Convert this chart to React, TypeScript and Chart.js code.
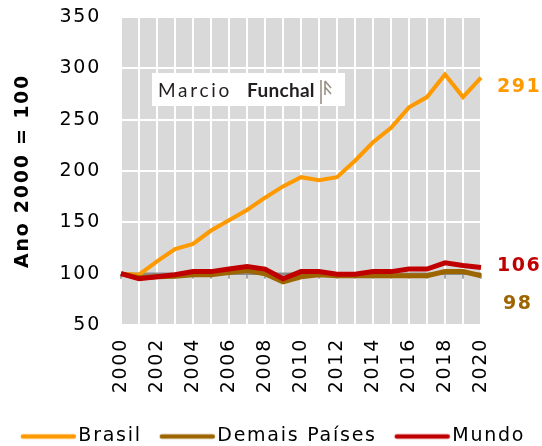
import React, { useEffect, useRef } from "react";
import { Chart, registerables } from "chart.js";

Chart.register(...registerables);

const years = ["2000","2001","2002","2003","2004","2005","2006","2007","2008","2009","2010","2011","2012","2013","2014","2015","2016","2017","2018","2019","2020"];
const brasil = [100, 99, 112, 124, 129, 142, 152, 162, 174, 185, 194, 191, 194, 210, 228, 242, 262, 272, 294, 272, 291];
const demais = [100, 96, 97, 97.5, 99, 99, 101, 103, 100, 92, 97, 99, 98, 98, 98, 98, 98, 98, 102, 102, 98];
const mundo = [100, 95, 97, 99, 102, 102, 104.5, 107, 104.5, 95, 102, 102, 99.5, 99.5, 102, 102, 104.5, 104.5, 110.5, 108, 106];

const seriesNames = ["Brasil", "Demais Países", "Mundo"];
const seriesColors = ["#FF9900", "#9C6500", "#C00000"];
const endLabels = ["291", "98", "106"];
const endLabelAt = [282, 70, 107];

const FONT = "'DejaVu Sans', sans-serif";
const SPACING = "1.75px";

const spacingPlugin = {
  id: "spacing",
  beforeUpdate(chart: any) { chart.ctx.letterSpacing = SPACING; },
  beforeLayout(chart: any) { chart.ctx.letterSpacing = SPACING; },
  beforeDraw(chart: any) { chart.ctx.letterSpacing = SPACING; },
};

function legendImage(color: string) {
  const c = document.createElement("canvas");
  c.width = 72;
  c.height = 26;
  const g = c.getContext("2d")!;
  g.strokeStyle = color;
  g.lineWidth = 4.5;
  g.lineCap = "round";
  g.beginPath();
  g.moveTo(16, 13);
  g.lineTo(67, 13);
  g.stroke();
  return c;
}

const bgPlugin = {
  id: "bg",
  beforeDraw(chart: any) {
    const { ctx, chartArea: a } = chart;
    ctx.save();
    ctx.fillStyle = "#D9D9D9";
    ctx.fillRect(a.left, a.top, a.right - a.left, a.bottom - a.top);
    ctx.restore();
  },
  beforeDatasetsDraw(chart: any) {
    const { ctx, chartArea: a } = chart;
    const ys = chart.scales.y;
    const xs = chart.scales.x;
    const y = ys.getPixelForValue(100);
    ctx.save();
    ctx.strokeStyle = "#8C8C8C";
    ctx.lineWidth = 2.5;
    ctx.beginPath();
    ctx.moveTo(a.left, y);
    ctx.lineTo(a.right, y);
    ctx.stroke();
    ctx.lineWidth = 1.5;
    for (let i = 0; i < years.length; i++) {
      const x = xs.getPixelForValue(i);
      ctx.beginPath();
      ctx.moveTo(x, y);
      ctx.lineTo(x, y + 5);
      ctx.stroke();
    }
    ctx.restore();
  },
  afterDraw(chart: any) {
    const { ctx, chartArea: a } = chart;
    const ys = chart.scales.y;
    ctx.save();
    ctx.letterSpacing = "1.5px";
    ctx.font = `bold 19px ${FONT}`;
    ctx.textBaseline = "middle";
    ctx.textAlign = "left";
    for (let i = 0; i < endLabels.length; i++) {
      ctx.fillStyle = seriesColors[i];
      ctx.fillText(endLabels[i], a.right + 16 + (endLabels[i].length < 3 ? 6 : 0), ys.getPixelForValue(endLabelAt[i]));
    }
    // logo
    const lx = a.left + 31, ly = a.top + 56, lw = 193, lh = 33;
    ctx.fillStyle = "#FFFFFF";
    ctx.fillRect(lx, ly, lw, lh);
    ctx.fillStyle = "#231F20";
    ctx.letterSpacing = "2.7px";
    ctx.font = `400 19px Lato, sans-serif`;
    ctx.fillText("Marcio", lx + 6, ly + lh / 2 + 1);
    ctx.letterSpacing = "0.3px";
    ctx.font = `bold 19px Lato, sans-serif`;
    ctx.fillText("Funchal", lx + 95, ly + lh / 2 + 1);
    ctx.strokeStyle = "#9A8F85";
    ctx.lineWidth = 1.6;
    const ix = lx + 169, iy = ly + 7;
    ctx.beginPath();
    ctx.moveTo(ix, iy); ctx.lineTo(ix, iy + 24);
    ctx.moveTo(ix + 4, iy + 1); ctx.lineTo(ix + 4, iy + 15);
    ctx.moveTo(ix + 4, iy + 1); ctx.lineTo(ix + 10, iy + 8);
    ctx.moveTo(ix + 4, iy + 7); ctx.lineTo(ix + 10, iy + 14);
    ctx.stroke();
    ctx.restore();
  },
};

export default function App() {
  const ref = useRef<HTMLCanvasElement>(null);
  useEffect(() => {
    const images = seriesColors.map(legendImage);
    const datasets = [brasil, demais, mundo].map((d, i) => ({
      label: seriesNames[i],
      data: d,
      borderColor: seriesColors[i],
      backgroundColor: seriesColors[i],
      borderWidth: i === 0 ? 4 : 5,
      pointRadius: 0,
      tension: 0,
      order: 2 - i,
      yAxisID: "y",
    }));
    const chart = new Chart(ref.current!, {
      type: "line",
      data: { labels: years, datasets },
      options: {
        animation: false,
        responsive: false,
        devicePixelRatio: 1,
        layout: { padding: { left: 0, right: 0, top: 0, bottom: -10 } },
        plugins: {
          legend: {
            position: "bottom",
            labels: {
              usePointStyle: true,
              pointStyleWidth: 52,
              boxHeight: 19,
              padding: 14,
              color: "#000000",
              font: { family: FONT, size: 19 },
              generateLabels: (ch: any) => {
                const items = Chart.defaults.plugins.legend.labels.generateLabels(ch);
                items.sort((p: any, q: any) => p.datasetIndex - q.datasetIndex);
                return items.map((it: any) => ({ ...it, pointStyle: images[it.datasetIndex], lineWidth: 0 }));
              },
            },
          },
          tooltip: { enabled: false },
        },
        scales: {
          x: {
            grid: { color: "#FFFFFF", lineWidth: 2, drawTicks: false },
            border: { display: false },
            ticks: {
              autoSkip: false,
              maxRotation: 90,
              minRotation: 90,
              padding: 13,
              color: "#000000",
              font: { family: FONT, size: 19 },
              callback: (v: any, i: number) => (i % 2 === 0 ? years[i] : ""),
            },
            afterFit: (s: any) => { s.height = 88; },
          },
          y: {
            min: 50,
            max: 350,
            grid: { color: "#FFFFFF", lineWidth: 2, drawTicks: false },
            border: { display: false },
            ticks: {
              stepSize: 50,
              padding: 20,
              color: "#000000",
              font: { family: FONT, size: 19 },
            },
            title: {
              display: true,
              text: "Ano 2000 = 100",
              color: "#000000",
              font: { family: FONT, size: 19, weight: "bold" },
              padding: { top: 12, bottom: 0 },
            },
            afterFit: (s: any) => { s.width = 121; s.paddingTop = 17; s.paddingBottom = 0; },
          },
          yR: {
            position: "right",
            display: true,
            grid: { display: false },
            border: { display: false },
            ticks: { display: false },
            afterFit: (s: any) => { s.width = 61; s.paddingTop = 0; s.paddingBottom = 0; },
          },
        },
      },
      plugins: [spacingPlugin, bgPlugin],
    } as any);
    return () => chart.destroy();
  }, []);
  return (
    <div style={{ position: "fixed", left: 0, top: 0, width: 542, height: 446, background: "#FFFFFF" }}>
      <canvas ref={ref} width={542} height={446} style={{ display: "block" }} />
    </div>
  );
}
